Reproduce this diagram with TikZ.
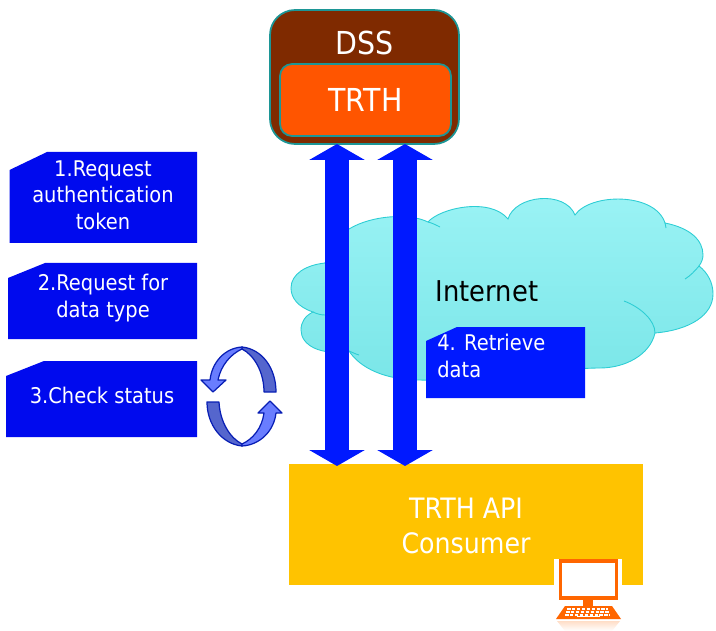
\documentclass[tikz,border=0pt]{standalone}
\usepackage{fontspec}
\setmainfont[FakeStretch=0.9]{DejaVu Sans}
\usepackage{tikz}
\usetikzlibrary{arrows.meta}
\definecolor{dssbrown}{RGB}{127,42,0}
\definecolor{trthorange}{RGB}{255,85,0}
\definecolor{tealline}{RGB}{28,150,150}
\definecolor{stepblue}{RGB}{0,10,238}
\definecolor{arrowblue}{RGB}{0,25,255}
\definecolor{cloudline}{RGB}{44,205,212}
\definecolor{cloudtop}{RGB}{155,243,245}
\definecolor{cloudbottom}{RGB}{122,230,232}
\definecolor{consumeryellow}{RGB}{255,195,0}
\definecolor{pcorange}{RGB}{255,102,0}
\definecolor{loopfront}{RGB}{105,125,255}
\definecolor{loopback}{RGB}{85,102,205}
\definecolor{loopline}{RGB}{8,30,180}
\tikzset{
  whitetext/.style={text=white,font=\fontsize{12.3}{15}\selectfont,align=center,inner sep=0pt},
  bigtext/.style={font=\fontsize{18}{20}\selectfont,inner sep=0pt},
  stepbox/.style={fill=stepblue,draw=none},
  blockarrow/.style={draw=arrowblue,line width=0.48cm,
    {Triangle[length=0.32cm,width=1.1cm]}-{Triangle[length=0.32cm,width=1.1cm]}},
  cloudtail/.style={draw=cloudline,line width=0.5pt},
  loopface/.style={draw=loopline,line width=0.7pt,line join=round}
}
\begin{document}
\begin{tikzpicture}[x=0.02cm,y=0.02cm]
\useasboundingbox (0,0) rectangle (716,-631);
% cloud
\shade [top color=cloudtop,bottom color=cloudbottom,draw=cloudline,line width=0.5pt]
  (313,-312) .. controls (298,-307) and (291,-298) .. (291,-288)
  .. controls (291,-274) and (306,-265) .. (325,-263)
  .. controls (332,-245) and (340,-235) .. (349,-229)
  .. controls (372,-215) and (410,-213) .. (428,-222)
  .. controls (440,-208) and (490,-197) .. (508,-219)
  .. controls (515,-195) and (565,-190) .. (575,-215)
  .. controls (590,-193) and (655,-192) .. (665,-223)
  .. controls (690,-228) and (703,-240) .. (703,-255)
  .. controls (703,-258) and (702,-262) .. (699,-266)
  .. controls (708,-273) and (713,-283) .. (713,-294)
  .. controls (713,-315) and (690,-330) .. (655,-333)
  .. controls (650,-355) and (625,-368) .. (600,-368)
  .. controls (560,-368) and (460,-382) .. (420,-380)
  .. controls (385,-380) and (360,-368) .. (349,-351)
  .. controls (320,-356) and (301,-345) .. (301,-330)
  .. controls (301,-322) and (305,-316) .. (313,-312) -- cycle;
\draw [cloudtail] (440,-227) .. controls (436,-225) and (432,-223) .. (428,-222);
\draw [cloudtail] (666,-228) .. controls (666,-226) and (666,-225) .. (665,-223);
\draw [cloudtail] (685,-279) .. controls (690,-276) and (695,-271) .. (699,-266);
\draw [cloudtail] (624,-301) .. controls (640,-307) and (655,-320) .. (655,-333);
\draw [cloudtail] (359,-355) .. controls (355,-354) and (352,-352) .. (349,-351);
\draw [cloudtail] (313,-312) .. controls (317,-314) and (321,-315) .. (325,-315);
\node (internet) [bigtext,font=\fontsize{16.3}{18}\selectfont] at (487,-291) {Internet};
% dss
\node (dss) [draw=tealline,line width=1pt,fill=dssbrown,rounded corners=0.5cm,minimum width=3.78cm,minimum height=2.68cm,inner sep=0pt] at (364.5,-77) {};
\node (dsslabel) [bigtext,text=white] at (365,-43) {DSS};
\node (trth) [draw=tealline,line width=1pt,fill=trthorange,rounded corners=0.24cm,minimum width=3.42cm,minimum height=1.44cm,bigtext,text=white] at (365.5,-100) {\raisebox{-1pt}{TRTH}};
% consumer
\node (consumer) [fill=consumeryellow,minimum width=7.08cm,minimum height=2.42cm,inner sep=0pt] at (466,-524.5) {};
\node (consumerlabel) [bigtext,text=white,align=center,font=\fontsize{16}{19.8}\selectfont] at (466,-526) {TRTH API\\Consumer};
% block arrows
\coordinate (leftup) at (337,-144);
\coordinate (leftdown) at (337,-466);
\coordinate (rightup) at (405,-144);
\coordinate (rightdown) at (405,-466);
\draw [blockarrow] (leftup) -- (leftdown);
\draw [blockarrow] (rightup) -- (rightdown);
% steps
\fill [stepbox] (9.5,-170) -- (47,-152) -- (197,-152) -- (197,-243) -- (9.5,-243) -- cycle;
\node (stepone) [whitetext] at (103,-195) {1.Request\\authentication\\token};
\fill [stepbox] (8,-278) -- (45,-263) -- (197,-263) -- (197,-339) -- (8,-339) -- cycle;
\node (steptwo) [whitetext] at (103,-298) {2.Request for\\data type};
\fill [stepbox] (6,-376) -- (44,-361) -- (197,-361) -- (197,-437) -- (6,-437) -- cycle;
\node (stepthree) [whitetext] at (102,-395) {3.Check status};
\fill [stepbox,fill=arrowblue] (426,-341) -- (457,-327) -- (585,-327) -- (585,-398) -- (426,-398) -- cycle;
\node (stepfour) [whitetext,align=left,anchor=west] at (437,-356) {4. Retrieve\\data};
% loop arrows
\filldraw [loopface,fill=loopback] (242,-347) .. controls (262,-349) and (276,-368) .. (276,-392) -- (264,-392) .. controls (264,-372) and (254,-355) .. (242,-349) -- cycle;
\filldraw [loopface,fill=loopfront] (242,-347) .. controls (225,-348) and (212,-362) .. (210,-380) -- (201,-380) -- (213,-392) -- (226,-380) -- (218,-380) .. controls (221,-365) and (231,-354) .. (242,-349) -- cycle;
\filldraw [loopface,fill=loopback] (242,-446) .. controls (222,-444) and (207,-425) .. (207,-402) -- (219,-402) .. controls (220,-422) and (230,-438) .. (242,-444) -- cycle;
\filldraw [loopface,fill=loopfront] (242,-446) .. controls (260,-445) and (274,-431) .. (276,-413) -- (282,-413) -- (270,-401) -- (258,-413) -- (264,-413) .. controls (262,-428) and (253,-439) .. (242,-444) -- cycle;
% computer
\fill [white] (554,-559) rectangle (622,-631);
\shade [top color=pcorange!22,bottom color=white,draw=none] (557,-621) -- (620,-621) -- (612,-631) -- (565,-631) -- cycle;
\node (screen) [draw=pcorange,line width=2pt,fill=white,minimum width=1.12cm,minimum height=0.74cm,inner sep=0pt] at (588.5,-579.5) {};
\fill [pcorange] (583,-599) rectangle (593,-606);
\fill [pcorange] (565,-606) -- (612,-606) -- (621,-619) -- (556,-619) -- cycle;
\foreach \row/\xa/\xb in {-609/567/608,-612/566/609,-615/565/610}
  \draw [white,line width=0.8pt,dash pattern=on 2pt off 0.8pt] (\xa,\row) -- (\xb,\row);
\draw [white,line width=1pt] (577,-616.5) -- (600,-616.5);
\end{tikzpicture}
\end{document}
